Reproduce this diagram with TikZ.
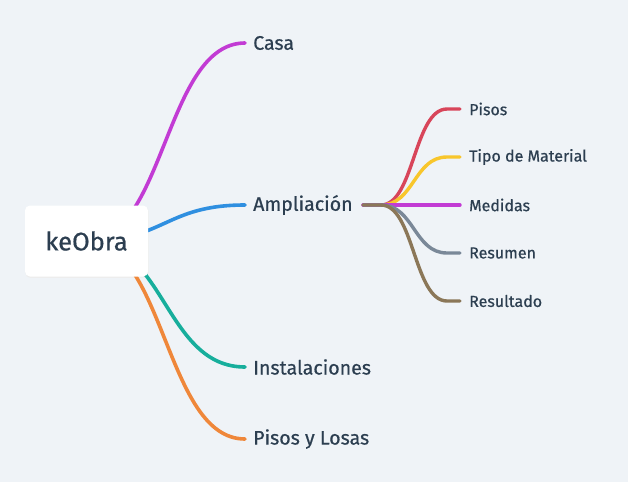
\documentclass[tikz,border=0pt]{standalone}
\usepackage{fontspec}
\setmainfont{Fira Sans}[BoldFont={Fira Sans},BoldFeatures={FakeBold=0.6}]
\usetikzlibrary{backgrounds}
\definecolor{bg}{HTML}{EFF3F7}
\definecolor{txt}{HTML}{2C3E50}
\definecolor{cmag}{HTML}{C23BD4}
\definecolor{cblue}{HTML}{2F8FE0}
\definecolor{cteal}{HTML}{17AE9C}
\definecolor{corange}{HTML}{EF873A}
\definecolor{cred}{HTML}{D8455A}
\definecolor{cyel}{HTML}{F8C62C}
\definecolor{cgrey}{HTML}{7A8898}
\definecolor{cbrown}{HTML}{8B7758}
\begin{document}
\begin{tikzpicture}[x=1pt,y=-1pt,
  rootbox/.style={fill=white, rounded corners=5pt, minimum width=123pt, minimum height=71pt,
    inner sep=0pt, font=\fontsize{25.5}{30}\selectfont\bfseries, text=txt},
  lvl/.style={anchor=west, inner sep=0pt, font=\fontsize{19.6}{23}\selectfont\bfseries, text=txt},
  sublvl/.style={anchor=west, inner sep=0pt, font=\fontsize{16}{19}\selectfont\bfseries, text=txt},
  branch/.style={line width=3.6pt, line cap=round},
  subbranch/.style={line width=3.4pt, line cap=round}]
\useasboundingbox (0,0) rectangle (628,482);

\node[rootbox] (root) at (86.5,241) {keObra};

\node[lvl] (casa) at (253,43) {Casa};
\node[lvl] (amp) at (253,205) {Ampliación};
\node[lvl] (inst) at (253,367) {Instalaciones};
\node[lvl] (pisosl) at (253,439) {Pisos y Losas};

\node[sublvl] (pisos) at (469,109) {Pisos};
\node[sublvl] (tipo) at (469,157) {Tipo de Material};
\node[sublvl] (med) at (469,205) {Medidas};
\node[sublvl] (res) at (469,253) {Resumen};
\node[sublvl] (resu) at (469,301) {Resultado};

\coordinate (hub) at (363,205);

\begin{pgfonlayer}{background}
\fill[bg] (0,0) rectangle (628,482);
\fill[black!7, rounded corners=5pt] ([xshift=0.5pt,yshift=-1.2pt]root.south west) rectangle ([xshift=0.5pt,yshift=-1.2pt]root.north east);
\draw[branch,cmag] (root.center) .. controls (165,241) and (165,43) .. ([xshift=-8pt]casa.west);
\draw[branch,cblue] (root.center) .. controls (165,241) and (165,205) .. ([xshift=-8pt]amp.west);
\draw[branch,cteal] (root.center) .. controls (165,241) and (165,367) .. ([xshift=-8pt]inst.west);
\draw[branch,corange] (root.center) .. controls (165,241) and (165,439) .. ([xshift=-8pt]pisosl.west);
\end{pgfonlayer}

\draw[subbranch,cred] (hub) -- (381,205) .. controls (414,205) and (414,109) .. (447,109) -- ([xshift=-9pt]pisos.west);
\draw[subbranch,cyel] (hub) -- (381,205) .. controls (414,205) and (414,157) .. (447,157) -- ([xshift=-9pt]tipo.west);
\draw[subbranch,cmag] (hub) -- ([xshift=-9pt]med.west);
\draw[subbranch,cgrey] (hub) -- (381,205) .. controls (414,205) and (414,253) .. (447,253) -- ([xshift=-9pt]res.west);
\draw[subbranch,cbrown] (hub) -- (381,205) .. controls (414,205) and (414,301) .. (447,301) -- ([xshift=-9pt]resu.west);
\end{tikzpicture}
\end{document}
